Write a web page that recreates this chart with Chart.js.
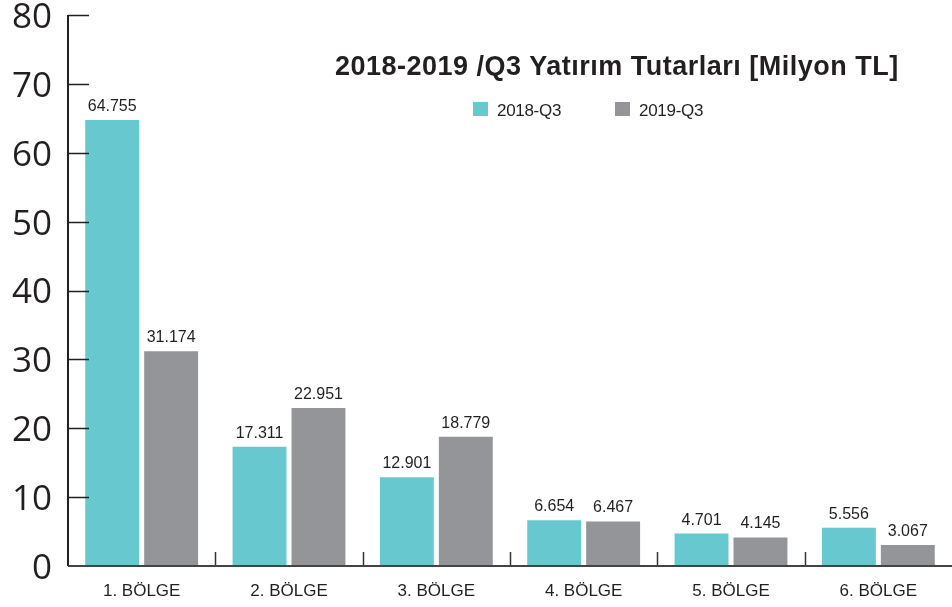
<!DOCTYPE html>
<html>
<head>
<meta charset="utf-8">
<script src="https://cdn.jsdelivr.net/npm/chart.js@4.4.1/dist/chart.umd.min.js"></script>
<style>
  html, body { margin: 0; padding: 0; background: #fff; }
  #wrap { position: relative; width: 952px; height: 607px; }
  canvas { position: absolute; left: 0; top: 0; }
  #title { position: absolute; left: 335px; top: 53px; line-height: 27px; font: bold 27px/27px "Liberation Sans", Arial, sans-serif; letter-spacing: 0.5px; color: #231f20; white-space: nowrap; }
  #legend { position: absolute; left: 473px; top: 102px; font: 17px/17px "Liberation Sans", Arial, sans-serif; color: #231f20; white-space: nowrap; letter-spacing: -0.3px; }
  #legend span.item { display: inline-block; margin-right: 54px; }
  #legend span.box { display: inline-block; width: 15px; height: 14px; vertical-align: baseline; margin-right: 9px; }
</style>
</head>
<body>
<div id="wrap">
  <canvas id="c" width="952" height="607"></canvas>
  <div id="title"></div>
  <div id="legend"></div>
</div>
<script>
const titleText = "2018-2019 /Q3 Yatırım Tutarları [Milyon TL]";
const categories = ["1. BÖLGE", "2. BÖLGE", "3. BÖLGE", "4. BÖLGE", "5. BÖLGE", "6. BÖLGE"];
const seriesNames = ["2018-Q3", "2019-Q3"];
const values2018 = [64.755, 17.311, 12.901, 6.654, 4.701, 5.556];
const values2019 = [31.174, 22.951, 18.779, 6.467, 4.145, 3.067];
const yTicks = [0, 10, 20, 30, 40, 50, 60, 70, 80];
const colors = ["#67c8cf", "#939598"];

document.getElementById('title').textContent = titleText;
const leg = document.getElementById('legend');
seriesNames.forEach((n, i) => {
  const s = document.createElement('span');
  s.className = 'item';
  const b = document.createElement('span');
  b.className = 'box';
  b.style.background = colors[i];
  s.appendChild(b);
  s.appendChild(document.createTextNode(n));
  leg.appendChild(s);
});

const decor = {
  id: 'decor',
  afterDatasetsDraw(chart) {
    const ctx = chart.ctx;
    const y = chart.scales.y, x = chart.scales.x;
    const area = chart.chartArea;
    ctx.save();
    ctx.strokeStyle = '#231f20';
    ctx.lineWidth = 1.5;
    yTicks.forEach(v => {
      if (v === 0) return;
      const py = Math.round(y.getPixelForValue(v)) + 0.5;
      ctx.beginPath(); ctx.moveTo(area.left, py); ctx.lineTo(area.left + 21, py); ctx.stroke();
    });
    ctx.strokeStyle = '#333';
    ctx.lineWidth = 1.5;
    for (let i = 1; i < categories.length; i++) {
      const px = Math.round((x.getPixelForValue(i - 1) + x.getPixelForValue(i)) / 2) + 0.5;
      ctx.beginPath(); ctx.moveTo(px, area.bottom); ctx.lineTo(px, area.bottom - 14); ctx.stroke();
    }
    ctx.strokeStyle = '#231f20';
    ctx.lineWidth = 2;
    ctx.beginPath(); ctx.moveTo(area.left, y.getPixelForValue(80)); ctx.lineTo(area.left, area.bottom); ctx.stroke();
    ctx.strokeStyle = '#444';
    ctx.beginPath(); ctx.moveTo(area.left, area.bottom); ctx.lineTo(area.right, area.bottom); ctx.stroke();
    ctx.fillStyle = '#231f20';
    ctx.font = '16px "Liberation Sans", Arial, sans-serif';
    ctx.textAlign = 'center';
    ctx.textBaseline = 'alphabetic';
    chart.data.datasets.forEach((ds, di) => {
      chart.getDatasetMeta(di).data.forEach((bar, i) => {
        ctx.fillText(ds.data[i].toFixed(3), bar.x, bar.y - 9);
      });
    });
    ctx.restore();
  }
};

new Chart(document.getElementById('c'), {
  type: 'bar',
  data: {
    labels: categories,
    datasets: [
      { label: seriesNames[0], data: values2018, backgroundColor: colors[0], categoryPercentage: 0.8, barPercentage: 0.915 },
      { label: seriesNames[1], data: values2019, backgroundColor: colors[1], categoryPercentage: 0.8, barPercentage: 0.915 }
    ]
  },
  options: {
    responsive: false,
    animation: false,
    layout: { padding: { top: 15, right: 0, bottom: 0, left: 0 } },
    plugins: { legend: { display: false }, title: { display: false }, tooltip: { enabled: false } },
    scales: {
      x: {
        grid: { display: false, drawTicks: false },
        border: { display: false },
        ticks: { color: '#231f20', padding: 15, font: { family: '"Liberation Sans", Arial, sans-serif', size: 17 } },
        afterFit(s) { s.height = 41; s.paddingLeft = 0; s.paddingRight = 0; }
      },
      y: {
        min: 0, max: 80,
        afterBuildTicks(s) { s.ticks = yTicks.map(v => ({ value: v })); },
        grid: { display: false, drawTicks: false },
        border: { display: false },
        ticks: { color: '#231f20', padding: 16, labelOffset: 3, font: { family: '"Open Sans", sans-serif', size: 35 } },
        afterFit(s) { s.width = 68; s.paddingTop = 0; s.paddingBottom = 0; }
      }
    }
  },
  plugins: [decor]
});
</script>
</body>
</html>
